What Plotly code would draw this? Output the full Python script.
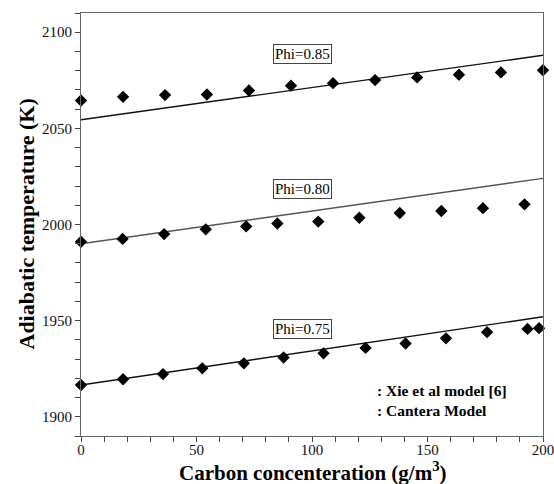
import plotly.graph_objects as go

# Carbon concentration (g/m^3) for each equivalence-ratio series
x_phi085 = [0, 18.2, 36.4, 54.5, 72.7, 90.9, 109.1, 127.3, 145.5, 163.6, 181.8, 200]
x_phi080 = [0, 18, 36, 54, 71.5, 85, 102.7, 120.5, 138, 156, 174, 192]
x_phi075 = [0, 18.2, 35.5, 52.5, 70.5, 87.7, 105, 123.2, 140.5, 158, 175.8, 193.3, 198.3]

# Xie et al model [6] adiabatic temperatures (K)
t_phi085 = [2064.5, 2066.4, 2067.3, 2067.6, 2069.7, 2072.2, 2073.5, 2075.1, 2076.5, 2077.9, 2079.1, 2080.2]
t_phi080 = [1991, 1992.5, 1995, 1997.5, 1999, 2000.5, 2001.5, 2003.5, 2006, 2007, 2008.5, 2010.5]
t_phi075 = [1916.5, 1919.5, 1922.2, 1925.2, 1927.8, 1930.8, 1933, 1935.8, 1938.1, 1940.8, 1944, 1945.7, 1946.1]

# Cantera model (straight lines between the range ends)
x_line = [0, 200]
cantera_085 = [2054.5, 2088]
cantera_080 = [1990, 2024]
cantera_075 = [1916.5, 1952]

phi_labels = ["Phi=0.85", "Phi=0.80", "Phi=0.75"]
phi_label_t = [2088.5, 2018.3, 1945.6]
legend_lines = [": Xie et al model [6]", ": Cantera Model"]

SERIF = "Liberation Serif"

fig = go.Figure()

for xs, ys, col in [(x_line, cantera_085, "#111111"),
                    (x_line, cantera_080, "#555555"),
                    (x_line, cantera_075, "#111111")]:
    fig.add_trace(go.Scatter(x=xs, y=ys, mode="lines",
                             line=dict(color=col, width=1.4),
                             showlegend=False, hoverinfo="skip"))

for xs, ys in [(x_phi085, t_phi085), (x_phi080, t_phi080), (x_phi075, t_phi075)]:
    fig.add_trace(go.Scatter(x=xs, y=ys, mode="markers",
                             marker=dict(symbol="diamond", size=9.5, color="black"),
                             showlegend=False, cliponaxis=False))

for label, ty in zip(phi_labels, phi_label_t):
    fig.add_annotation(x=96, y=ty, text=label, showarrow=False,
                       font=dict(family=SERIF, size=15, color="black"),
                       bordercolor="#444444", borderwidth=1, borderpad=1,
                       bgcolor="white")

fig.add_annotation(x=127.3, y=1908.6,
                   text="<b>" + "<br>".join(legend_lines) + "</b>",
                   showarrow=False, xanchor="left", align="left",
                   font=dict(family=SERIF, size=15.5, color="black"))

# Axis titles
fig.add_annotation(xref="paper", yref="paper", x=0.5, y=0, yshift=-35,
                   text="<b>Carbon concenteration (g/m<sup>3</sup>)</b>",
                   showarrow=False, yanchor="middle",
                   font=dict(family=SERIF, size=21, color="black"))
fig.add_annotation(xref="paper", yref="paper", x=0, xshift=-55, y=0.5,
                   text="<b>Adiabatic temperature (K)</b>", textangle=-90,
                   showarrow=False, xanchor="center",
                   font=dict(family=SERIF, size=22, color="black"))

axis_common = dict(showline=True, linecolor="#666666", linewidth=1, mirror=True,
                   ticks="outside", ticklen=5, tickcolor="#444444",
                   showgrid=False, zeroline=False, automargin=False,
                   tickfont=dict(family=SERIF, size=15, color="#111111"))

fig.update_xaxes(range=[0, 200], dtick=50, ticklabeloverflow="allow",
                 ticklabelstandoff=-5,
                 minor=dict(dtick=10, ticks="outside", ticklen=5, tickcolor="#444444"),
                 **axis_common)
fig.update_yaxes(range=[1890, 2110], dtick=50,
                 minor=dict(dtick=10, ticks="outside", ticklen=5, tickcolor="#444444"),
                 **axis_common)

fig.update_layout(width=554, height=484,
                  margin=dict(l=81, r=11, t=13, b=48),
                  plot_bgcolor="white", paper_bgcolor="white",
                  showlegend=False)

fig.write_html("out.html")
